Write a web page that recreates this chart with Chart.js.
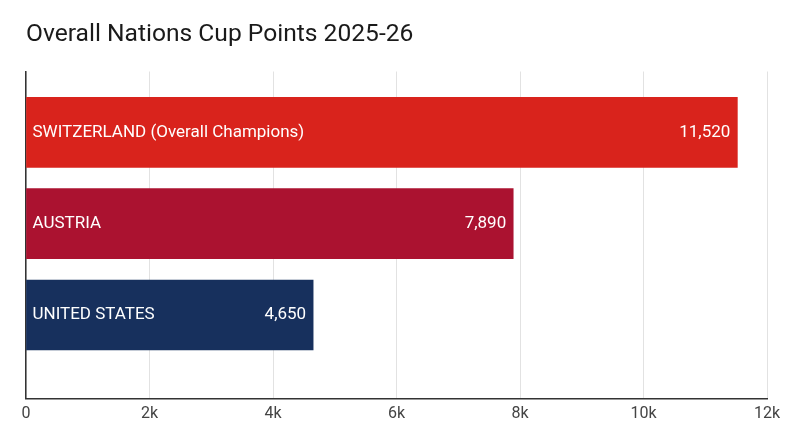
<!DOCTYPE html>
<html>
<head>
<meta charset="utf-8">
<script src="https://cdn.jsdelivr.net/npm/chart.js@4"></script>
<style>
  html, body { margin: 0; padding: 0; background: #fff; }
  #wrap { width: 800px; height: 447px; }
</style>
</head>
<body>
<div id="wrap"><canvas id="nationsChart"></canvas></div>
<script>
const countries = ['SWITZERLAND (Overall Champions)', 'AUSTRIA', 'UNITED STATES'];
const points = [11520, 7890, 4650];
const barColors = ['#D9231C', '#AB1230', '#17305D'];
const tickValues = [0, 2000, 4000, 6000, 8000, 10000, 12000];
const tickLabels = ['0', '2k', '4k', '6k', '8k', '10k', '12k'];

// writes the country name on the left and the points on the right of each bar
const barLabels = {
    id: 'barLabels',
    afterDatasetsDraw(chart) {
        const ctx = chart.ctx;
        const meta = chart.getDatasetMeta(0);
        ctx.save();
        ctx.fillStyle = '#ffffff';
        ctx.font = '17px Roboto';
        ctx.textBaseline = 'middle';
        meta.data.forEach((bar, i) => {
            ctx.textAlign = 'left';
            ctx.fillText(countries[i], bar.base + 6, bar.y);
            ctx.textAlign = 'right';
            ctx.fillText(points[i].toLocaleString('en-US'), bar.x - 7, bar.y);
        });
        ctx.restore();
    }
};

const ctx = document.getElementById('nationsChart').getContext('2d');

new Chart(ctx, {
    type: 'bar',
    data: {
        datasets: [{
            data: points.map((p, i) => ({ x: p, y: i })),
            backgroundColor: barColors,
            borderWidth: 0,
            barThickness: 70
        }]
    },
    options: {
        indexAxis: 'y',
        responsive: true,
        maintainAspectRatio: false,
        animation: false,
        layout: { padding: { left: 26, right: 33, top: 0, bottom: 17 } },
        scales: {
            x: {
                type: 'linear',
                min: 0,
                max: 12000,
                afterBuildTicks(scale) {
                    scale.ticks = tickValues.map(v => ({ value: v }));
                },
                ticks: {
                    padding: 6,
                    color: '#444',
                    font: { family: 'Roboto', size: 16 },
                    maxRotation: 0,
                    callback: (v) => tickLabels[tickValues.indexOf(v)]
                },
                grid: { color: '#e2e2e2', drawTicks: false },
                border: { color: '#333', width: 1.5 }
            },
            y: {
                type: 'linear',
                reverse: true,
                offset: false,
                min: -0.667,
                max: 2.918,
                ticks: { display: false },
                grid: { display: false, drawTicks: false, offset: false },
                border: { color: '#333', width: 1.5 },
                afterFit(scale) { scale.width = 0; }
            }
        },
        plugins: {
            legend: { display: false },
            tooltip: { enabled: false },
            title: {
                display: true,
                text: 'Overall Nations Cup Points 2025-26',
                align: 'start',
                color: '#1a1a1a',
                font: { family: 'Roboto', size: 24.6, weight: 'normal' },
                padding: { top: 20, bottom: 22 }
            }
        }
    },
    plugins: [barLabels]
});
</script>
</body>
</html>
